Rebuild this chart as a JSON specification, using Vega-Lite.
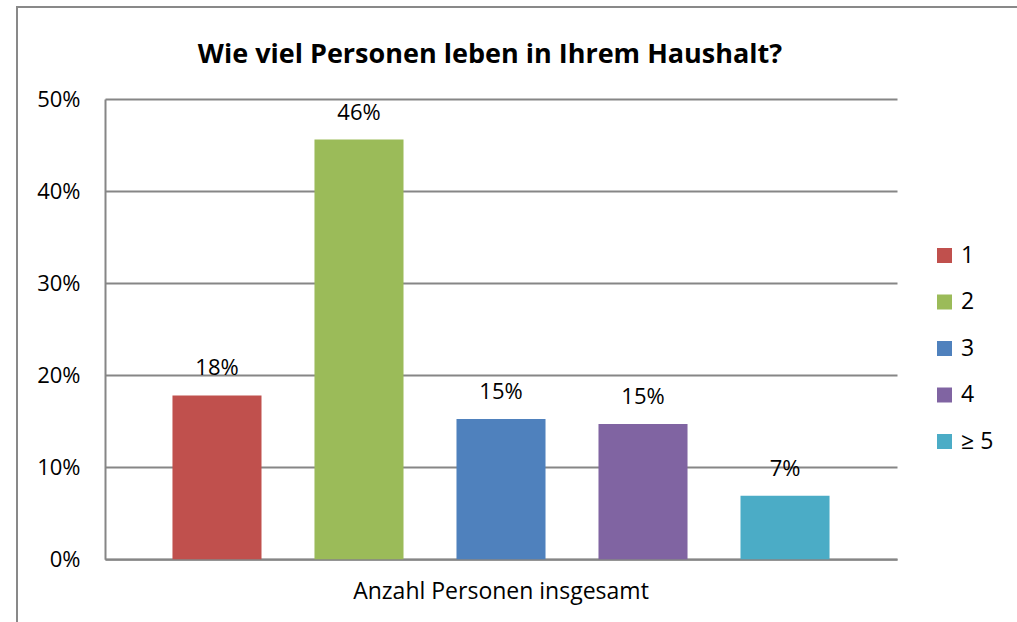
{
  "$schema": "https://vega.github.io/schema/vega-lite/v6.json",
  "width": 1010,
  "height": 620,
  "autosize": {"type": "none"},
  "padding": {"left": 17, "top": 7, "right": 0, "bottom": 0},
  "background": "white",
  "title": {
    "text": "Wie viel Personen leben in Ihrem Haushalt?",
    "font": "Open Sans",
    "fontSize": 27,
    "fontWeight": "bold",
    "color": "#000000",
    "anchor": "middle",
    "dx": -32,
    "offset": -62
  },
  "config": {
    "view": {"stroke": "#898989", "strokeWidth": 2},
    "axis": {"labelFont": "Open Sans", "labelColor": "#000000"},
    "legend": {"labelFont": "Open Sans", "labelColor": "#000000"}
  },
  "data": {
    "values": [
      {"cat": "Anzahl Personen insgesamt", "group": "1", "value": 0.178},
      {"cat": "Anzahl Personen insgesamt", "group": "2", "value": 0.456},
      {"cat": "Anzahl Personen insgesamt", "group": "3", "value": 0.1525},
      {"cat": "Anzahl Personen insgesamt", "group": "4", "value": 0.147},
      {"cat": "Anzahl Personen insgesamt", "group": "≥ 5", "value": 0.069}
    ]
  },
  "encoding": {
    "x": {
      "field": "cat",
      "type": "nominal",
      "scale": {"range": [88, 880], "paddingInner": 0, "paddingOuter": 0.0577},
      "axis": {
        "title": null,
        "labelAngle": 0,
        "labelFontSize": 23,
        "labelLimit": 0,
        "labelPadding": 21,
        "ticks": false,
        "domain": true,
        "domainColor": "#868686",
        "domainWidth": 2,
        "grid": false,
        "offset": -67.7
      }
    },
    "xOffset": {
      "field": "group",
      "type": "nominal",
      "sort": ["1", "2", "3", "4", "≥ 5"],
      "scale": {"paddingInner": 0.373, "paddingOuter": 0.1866}
    },
    "y": {
      "field": "value",
      "type": "quantitative",
      "scale": {"domain": [0, 0.5], "range": [552.3, 92], "nice": false, "zero": true},
      "axis": {
        "title": null,
        "format": ".0%",
        "values": [0, 0.1, 0.2, 0.3, 0.4, 0.5],
        "labelFontSize": 22,
        "labelPadding": 25,
        "ticks": false,
        "domain": true,
        "domainColor": "#868686",
        "domainWidth": 2,
        "grid": true,
        "gridColor": "#868686",
        "gridWidth": 2,
        "offset": -88
      }
    }
  },
  "layer": [
    {
      "mark": {"type": "bar"},
      "encoding": {
        "color": {
          "field": "group",
          "type": "nominal",
          "sort": ["1", "2", "3", "4", "≥ 5"],
          "scale": {"range": ["#C0504D", "#9BBB59", "#4F81BD", "#8064A2", "#4BACC6"]},
          "legend": {
            "title": null,
            "orient": "none",
            "legendX": 916,
            "legendY": 237,
            "padding": 0,
            "symbolType": "square",
            "symbolSize": 225,
            "symbolStrokeWidth": 0,
            "symbolOpacity": 1,
            "labelFontSize": 23,
            "labelOffset": 5,
            "rowPadding": 22.5
          }
        }
      }
    },
    {
      "mark": {"type": "text", "baseline": "alphabetic", "align": "center", "dy": -20, "font": "Open Sans", "fontSize": 22, "color": "#000000"},
      "encoding": {
        "text": {"field": "value", "type": "quantitative", "format": ".0%"}
      }
    }
  ]
}
